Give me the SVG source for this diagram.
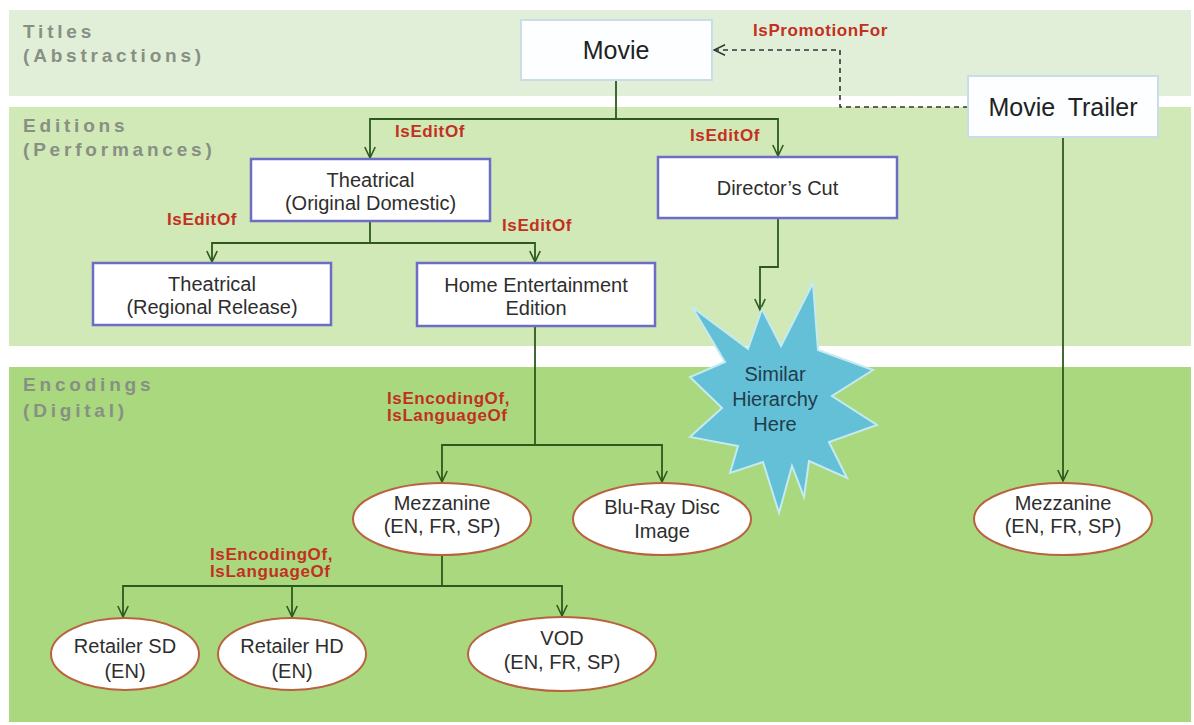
<svg xmlns="http://www.w3.org/2000/svg" width="1194" height="725" viewBox="0 0 1194 725">
  <defs>
    <marker id="arrow" viewBox="0 0 14 12" refX="12.5" refY="6" markerWidth="14" markerHeight="12" markerUnits="userSpaceOnUse" orient="auto">
      <path d="M1.5,0.8 L12.5,6 L1.5,11.2" fill="none" stroke="#2d5a1c" stroke-width="1.6"/>
    </marker>
    <marker id="arrow-dash" viewBox="0 0 14 12" refX="12.5" refY="6" markerWidth="14" markerHeight="12" markerUnits="userSpaceOnUse" orient="auto">
      <path d="M1.5,0.8 L12.5,6 L1.5,11.2" fill="none" stroke="#333" stroke-width="1.5"/>
    </marker>
    <style>
      .band-label { font-family: "Liberation Sans", Arial, sans-serif; font-weight: bold; font-size: 19px; letter-spacing: 3.8px; fill: #879083; }
      .node-text { font-family: "Liberation Sans", Arial, sans-serif; font-size: 20px; fill: #2e2e2e; text-anchor: middle; }
      .big-text { font-family: "Liberation Sans", Arial, sans-serif; font-size: 25px; fill: #222; text-anchor: middle; }
      .rel { font-family: "Liberation Sans", Arial, sans-serif; font-weight: bold; font-size: 17px; letter-spacing: 0.6px; fill: #c2301f; }
      .title-box { fill: #fcfeff; stroke: #c9dde8; stroke-width: 2; }
      .edition-box { fill: #ffffff; stroke: #6d6cc6; stroke-width: 2.5; }
      .encoding { fill: #ffffff; stroke: #b9623f; stroke-width: 2; }
      .link { fill: none; stroke: #2d5a1c; stroke-width: 1.8; }
      .promo { fill: none; stroke: #333; stroke-width: 1.6; stroke-dasharray: 5 4; }
      .star-text { font-family: "Liberation Sans", Arial, sans-serif; font-size: 20px; fill: #1f3c4c; text-anchor: middle; }
    </style>
  </defs>

  <!-- swim-lane bands -->
  <g id="bands">
    <rect x="9" y="10" width="1182" height="86" fill="#e2efd8"/>
    <rect x="9" y="107" width="1182" height="239" fill="#d1e8b7"/>
    <rect x="9" y="367" width="1182" height="355" fill="#a9d87f"/>
    <text class="band-label" x="23" y="38">Titles</text>
    <text class="band-label" x="23" y="62">(Abstractions)</text>
    <text class="band-label" x="23" y="132">Editions</text>
    <text class="band-label" x="23" y="156">(Performances)</text>
    <text class="band-label" x="23" y="391">Encodings</text>
    <text class="band-label" x="23" y="417">(Digital)</text>
  </g>

  <!-- connectors -->
  <g id="connectors">
    <path class="link" d="M616,80 V119 H370 V158" marker-end="url(#arrow)"/>
    <path class="link" d="M616,119 H778 V156" marker-end="url(#arrow)"/>
    <path class="link" d="M370,221 V243 H212 V262" marker-end="url(#arrow)"/>
    <path class="link" d="M370,243 H535 V262" marker-end="url(#arrow)"/>
    <path class="link" d="M778,218 V267 H760 V310" marker-end="url(#arrow)"/>
    <path class="link" d="M535,326 V445 H442 V482" marker-end="url(#arrow)"/>
    <path class="link" d="M535,445 H662 V482" marker-end="url(#arrow)"/>
    <path class="link" d="M442,555 V586 H123 V617" marker-end="url(#arrow)"/>
    <path class="link" d="M292,586 V617" marker-end="url(#arrow)"/>
    <path class="link" d="M442,586 H562 V616" marker-end="url(#arrow)"/>
    <path class="link" d="M1063,137 V481" marker-end="url(#arrow)"/>
    <path class="promo" d="M968,107 H840 V50 H714" marker-end="url(#arrow-dash)"/>

    <text class="rel" x="753" y="36">IsPromotionFor</text>
    <text class="rel" x="395" y="137">IsEditOf</text>
    <text class="rel" x="690" y="141">IsEditOf</text>
    <text class="rel" x="167" y="225">IsEditOf</text>
    <text class="rel" x="502" y="231">IsEditOf</text>
    <text class="rel" x="387" y="404">IsEncodingOf,</text>
    <text class="rel" x="387" y="421">IsLanguageOf</text>
    <text class="rel" x="210" y="560">IsEncodingOf,</text>
    <text class="rel" x="210" y="577">IsLanguageOf</text>
  </g>

  <!-- title level -->
  <g id="movie">
    <rect class="title-box" x="521" y="20" width="191" height="60"/>
    <text class="big-text" x="616" y="59">Movie</text>
  </g>
  <g id="movie-trailer">
    <rect class="title-box" x="968" y="76" width="190" height="61"/>
    <text class="big-text" x="1063" y="116" word-spacing="6">Movie Trailer</text>
  </g>

  <!-- edition level -->
  <g id="theatrical-original">
    <rect class="edition-box" x="251" y="159" width="239" height="62"/>
    <text class="node-text" x="370.5" y="187">Theatrical</text>
    <text class="node-text" x="370.5" y="210">(Original Domestic)</text>
  </g>
  <g id="directors-cut">
    <rect class="edition-box" x="658" y="157" width="239" height="61"/>
    <text class="node-text" x="777.5" y="195">Director’s Cut</text>
  </g>
  <g id="theatrical-regional">
    <rect class="edition-box" x="93" y="263" width="238" height="62"/>
    <text class="node-text" x="212" y="291">Theatrical</text>
    <text class="node-text" x="212" y="314">(Regional Release)</text>
  </g>
  <g id="home-entertainment">
    <rect class="edition-box" x="417" y="263" width="238" height="63"/>
    <text class="node-text" x="536" y="292">Home Entertainment</text>
    <text class="node-text" x="536" y="315">Edition</text>
  </g>

  <!-- placeholder burst for the director's cut branch -->
  <g id="similar-hierarchy">
    <polygon points="762,309 781,346 813,283 818,350 873,370 832,396 877,425 829,442 847,478 809,461 804,497 792,466 779,513 763,462 730,473 738,446 690,437 722,408 690,377 725,362 692,307 748,349" fill="#64c0d6" stroke="#c4eaf2" stroke-width="2" stroke-linejoin="miter"/>
    <text class="star-text" x="775" y="381">Similar</text>
    <text class="star-text" x="775" y="406">Hierarchy</text>
    <text class="star-text" x="775" y="431">Here</text>
  </g>

  <!-- encoding level -->
  <g id="mezzanine">
    <ellipse class="encoding" cx="442" cy="519" rx="89" ry="36"/>
    <text class="node-text" x="442" y="510">Mezzanine</text>
    <text class="node-text" x="442" y="533">(EN, FR, SP)</text>
  </g>
  <g id="blu-ray">
    <ellipse class="encoding" cx="662" cy="519" rx="89" ry="36"/>
    <text class="node-text" x="662" y="514">Blu-Ray Disc</text>
    <text class="node-text" x="662" y="538">Image</text>
  </g>
  <g id="trailer-mezzanine">
    <ellipse class="encoding" cx="1063" cy="519" rx="89" ry="36"/>
    <text class="node-text" x="1063" y="510">Mezzanine</text>
    <text class="node-text" x="1063" y="533">(EN, FR, SP)</text>
  </g>
  <g id="retailer-sd">
    <ellipse class="encoding" cx="125" cy="654" rx="74" ry="36"/>
    <text class="node-text" x="125" y="653">Retailer SD</text>
    <text class="node-text" x="125" y="678">(EN)</text>
  </g>
  <g id="retailer-hd">
    <ellipse class="encoding" cx="292" cy="654" rx="74" ry="36"/>
    <text class="node-text" x="292" y="653">Retailer HD</text>
    <text class="node-text" x="292" y="678">(EN)</text>
  </g>
  <g id="vod">
    <ellipse class="encoding" cx="562" cy="654" rx="94" ry="37"/>
    <text class="node-text" x="562" y="645">VOD</text>
    <text class="node-text" x="562" y="669">(EN, FR, SP)</text>
  </g>
</svg>
